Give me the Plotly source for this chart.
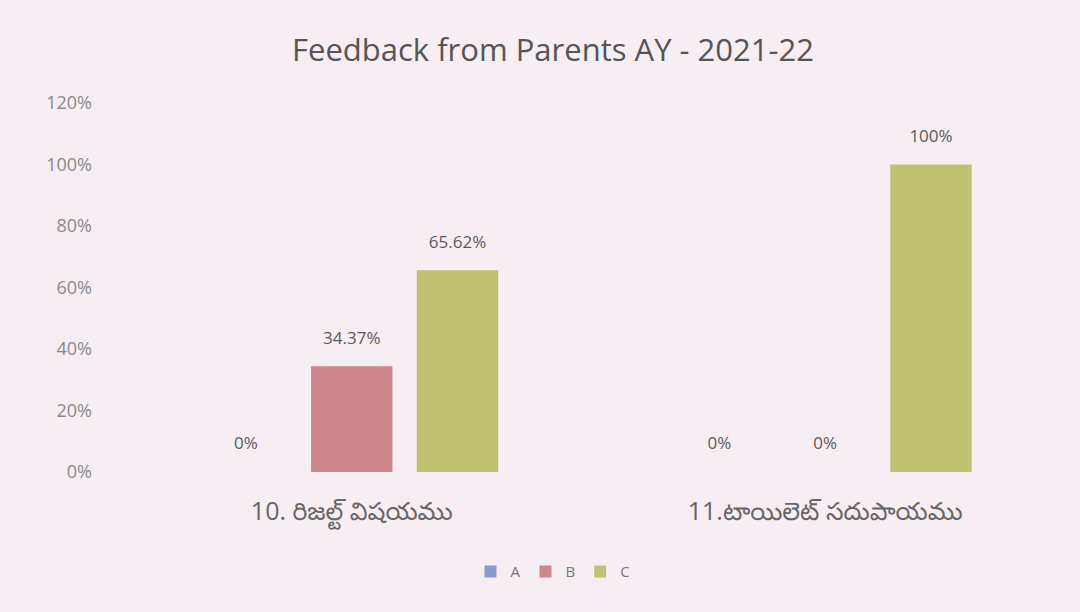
import plotly.graph_objects as go

categories = ["10. రిజల్ట్ విషయము", "11.టాయిలెట్ సదుపాయము"]
series_names = ["A", "B", "C"]
values_a = [0.0, 0.0]
values_b = [0.3437, 0.0]
values_c = [0.6562, 1.0]
labels_a = ["0%", "0%"]
labels_b = ["34.37%", "0%"]
labels_c = ["65.62%", "100%"]
y_ticks = [0, 0.2, 0.4, 0.6, 0.8, 1.0, 1.2]

colors = {"A": "#8a98cc", "B": "#cd878a", "C": "#bfc270"}
bg = "#f6eef3"
font_fam = "'Open Sans', 'Noto Sans Telugu', 'Noto Sans', sans-serif"

fig = go.Figure()
for name, vals, labs in [("A", values_a, labels_a), ("B", values_b, labels_b), ("C", values_c, labels_c)]:
    fig.add_trace(go.Bar(
        x=categories, y=vals, name=name,
        marker=dict(color=colors[name], line=dict(width=0)),
        text=["<span style='font-size:17px'>" + l + "</span><br> " for l in labs],
        textposition="outside", cliponaxis=False,
        textfont=dict(size=12, color="#5a5a5a"),
    ))

fig.update_layout(
    width=1080, height=612,
    paper_bgcolor=bg, plot_bgcolor=bg,
    barmode="group", bargap=0.33, bargroupgap=0.23,
    title=dict(text="Feedback from Parents AY - 2021-22", x=0.512, xanchor="center",
               y=0.918, yanchor="middle", font=dict(size=31, color="#555555", family=font_fam)),
    margin=dict(l=115, r=18, t=103, b=140),
    font=dict(family=font_fam, color="#777777"),
    showlegend=True,
    legend=dict(orientation="h", x=0.4625, xanchor="center", y=-0.27, yanchor="middle",
                font=dict(size=15, color="#777777"), itemwidth=30),
    yaxis=dict(range=[0, 1.2], tickvals=y_ticks, tickformat=".0%", showgrid=False,
               zeroline=False, tickfont=dict(size=18, color="#8a8a8a"), ticklabelstandoff=22),
    xaxis=dict(showline=False, tickfont=dict(size=25, color="#666666"), ticklabelstandoff=22),
)

fig.write_html("out.html", config={"displayModeBar": False},
               post_script="document.body.style.margin='0';")
